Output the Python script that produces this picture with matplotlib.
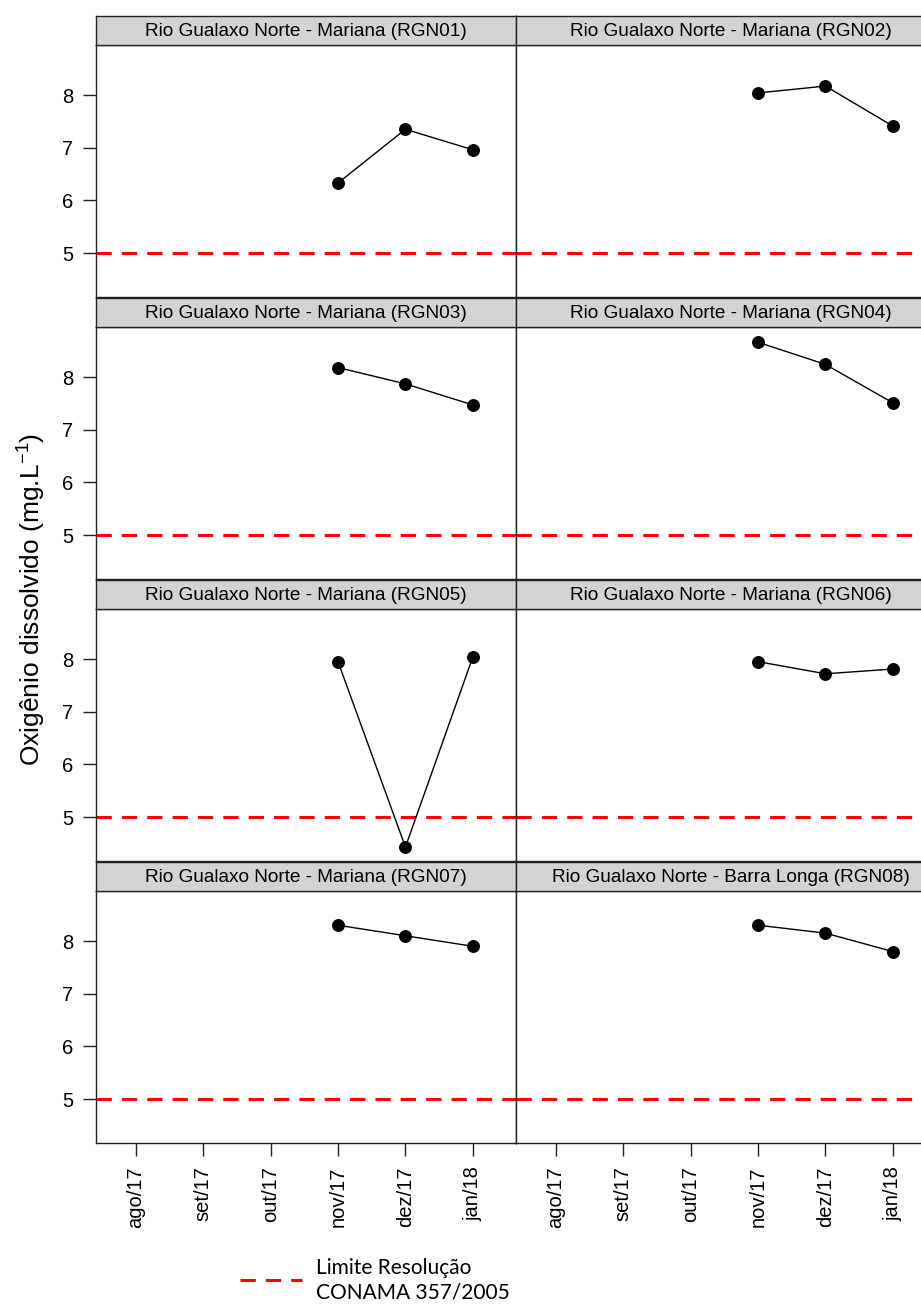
import matplotlib
matplotlib.use("Agg")
import matplotlib.pyplot as plt
from matplotlib.lines import Line2D

plt.rcParams['font.family'] = ['Liberation Sans', 'DejaVu Sans']
plt.rcParams['mathtext.fontset'] = 'custom'
plt.rcParams['mathtext.rm'] = 'Liberation Sans'
plt.rcParams['mathtext.it'] = 'Liberation Sans'

months = ["ago/17", "set/17", "out/17", "nov/17", "dez/17", "jan/18"]
sample_months = ["nov/17", "dez/17", "jan/18"]
stations = [
    "Rio Gualaxo Norte - Mariana (RGN01)",
    "Rio Gualaxo Norte - Mariana (RGN02)",
    "Rio Gualaxo Norte - Mariana (RGN03)",
    "Rio Gualaxo Norte - Mariana (RGN04)",
    "Rio Gualaxo Norte - Mariana (RGN05)",
    "Rio Gualaxo Norte - Mariana (RGN06)",
    "Rio Gualaxo Norte - Mariana (RGN07)",
    "Rio Gualaxo Norte - Barra Longa (RGN08)",
]
rgn01 = [6.33, 7.35, 6.96]
rgn02 = [8.04, 8.17, 7.41]
rgn03 = [8.18, 7.87, 7.47]
rgn04 = [8.66, 8.24, 7.51]
rgn05 = [7.95, 4.43, 8.04]
rgn06 = [7.95, 7.72, 7.81]
rgn07 = [8.30, 8.10, 7.90]
rgn08 = [8.30, 8.15, 7.80]
values = [rgn01, rgn02, rgn03, rgn04, rgn05, rgn06, rgn07, rgn08]
limit_value = 5
yticks = [5, 6, 7, 8]
legend_label = "Limite Resolução\nCONAMA 357/2005"
ylabel = "Oxigênio dissolvido (mg.L$^{-1}$)"

W, H = 921, 1305
fig = plt.figure(figsize=(W / 100, H / 100), dpi=100)

left0 = 96
pw = 420
ph = 252
sh = 29
pitch = 282
top0 = 45

xpos = {m: i for i, m in enumerate(months)}
xs = [xpos[m] for m in sample_months]

for idx, (name, vals) in enumerate(zip(stations, values)):
    r, c = divmod(idx, 2)
    x0 = left0 + c * pw
    ptop = top0 + r * pitch
    ax = fig.add_axes([x0 / W, 1 - (ptop + ph) / H, pw / W, ph / H])
    ax.set_xlim(-0.59, 5.64)
    ax.set_ylim(4.165, 8.95)
    ax.axhline(limit_value, color='red', lw=2.2, dashes=(5, 3.3), zorder=1)
    ax.plot(xs, vals, color='black', lw=1.0, marker='o', markersize=8.3,
            markerfacecolor='black', markeredgecolor='black', zorder=3)
    for s in ax.spines.values():
        s.set_linewidth(1.0)
        s.set_color('#222222')
    ax.set_xticks(range(len(months)))
    ax.set_yticks(yticks)
    ax.tick_params(axis='both', direction='out', length=9.5, width=1.0,
                   colors='#222222', labelcolor='black', labelsize=14.5)
    if c == 0:
        ax.set_yticklabels([str(v) for v in yticks])
        ax.tick_params(axis='y', pad=7)
    else:
        ax.tick_params(axis='y', left=False, labelleft=False)
    if r == 3:
        ax.set_xticklabels(months, rotation=90)
        ax.tick_params(axis='x', pad=8, length=9)
    else:
        ax.tick_params(axis='x', bottom=False, labelbottom=False)
    # strip
    sax = fig.add_axes([x0 / W, 1 - ptop / H, pw / W, sh / H])
    sax.set_facecolor('#d3d3d3')
    sax.set_xticks([])
    sax.set_yticks([])
    for s in sax.spines.values():
        s.set_linewidth(1.0)
        s.set_color('#222222')
    tx = 0.5 if c == 0 else (731 - x0) / pw
    sax.text(tx, 0.45, name, ha='center', va='center', fontsize=13.7,
             transform=sax.transAxes)

fig.text(32 / W, 1 - 599 / H, ylabel, rotation=90, ha='center', va='center',
         fontsize=19)

# legend
fig.add_artist(Line2D([240 / W, 302 / W], [1 - 1280 / H, 1 - 1280 / H],
                      transform=fig.transFigure, color='red', lw=2.2,
                      dashes=(5, 3.3)))
fig.text(316 / W, 1 - 1280 / H, legend_label, ha='left', va='center',
         fontsize=15, family=['Lato', 'DejaVu Sans'], linespacing=1.3)

fig.savefig("out.png", dpi=100)
